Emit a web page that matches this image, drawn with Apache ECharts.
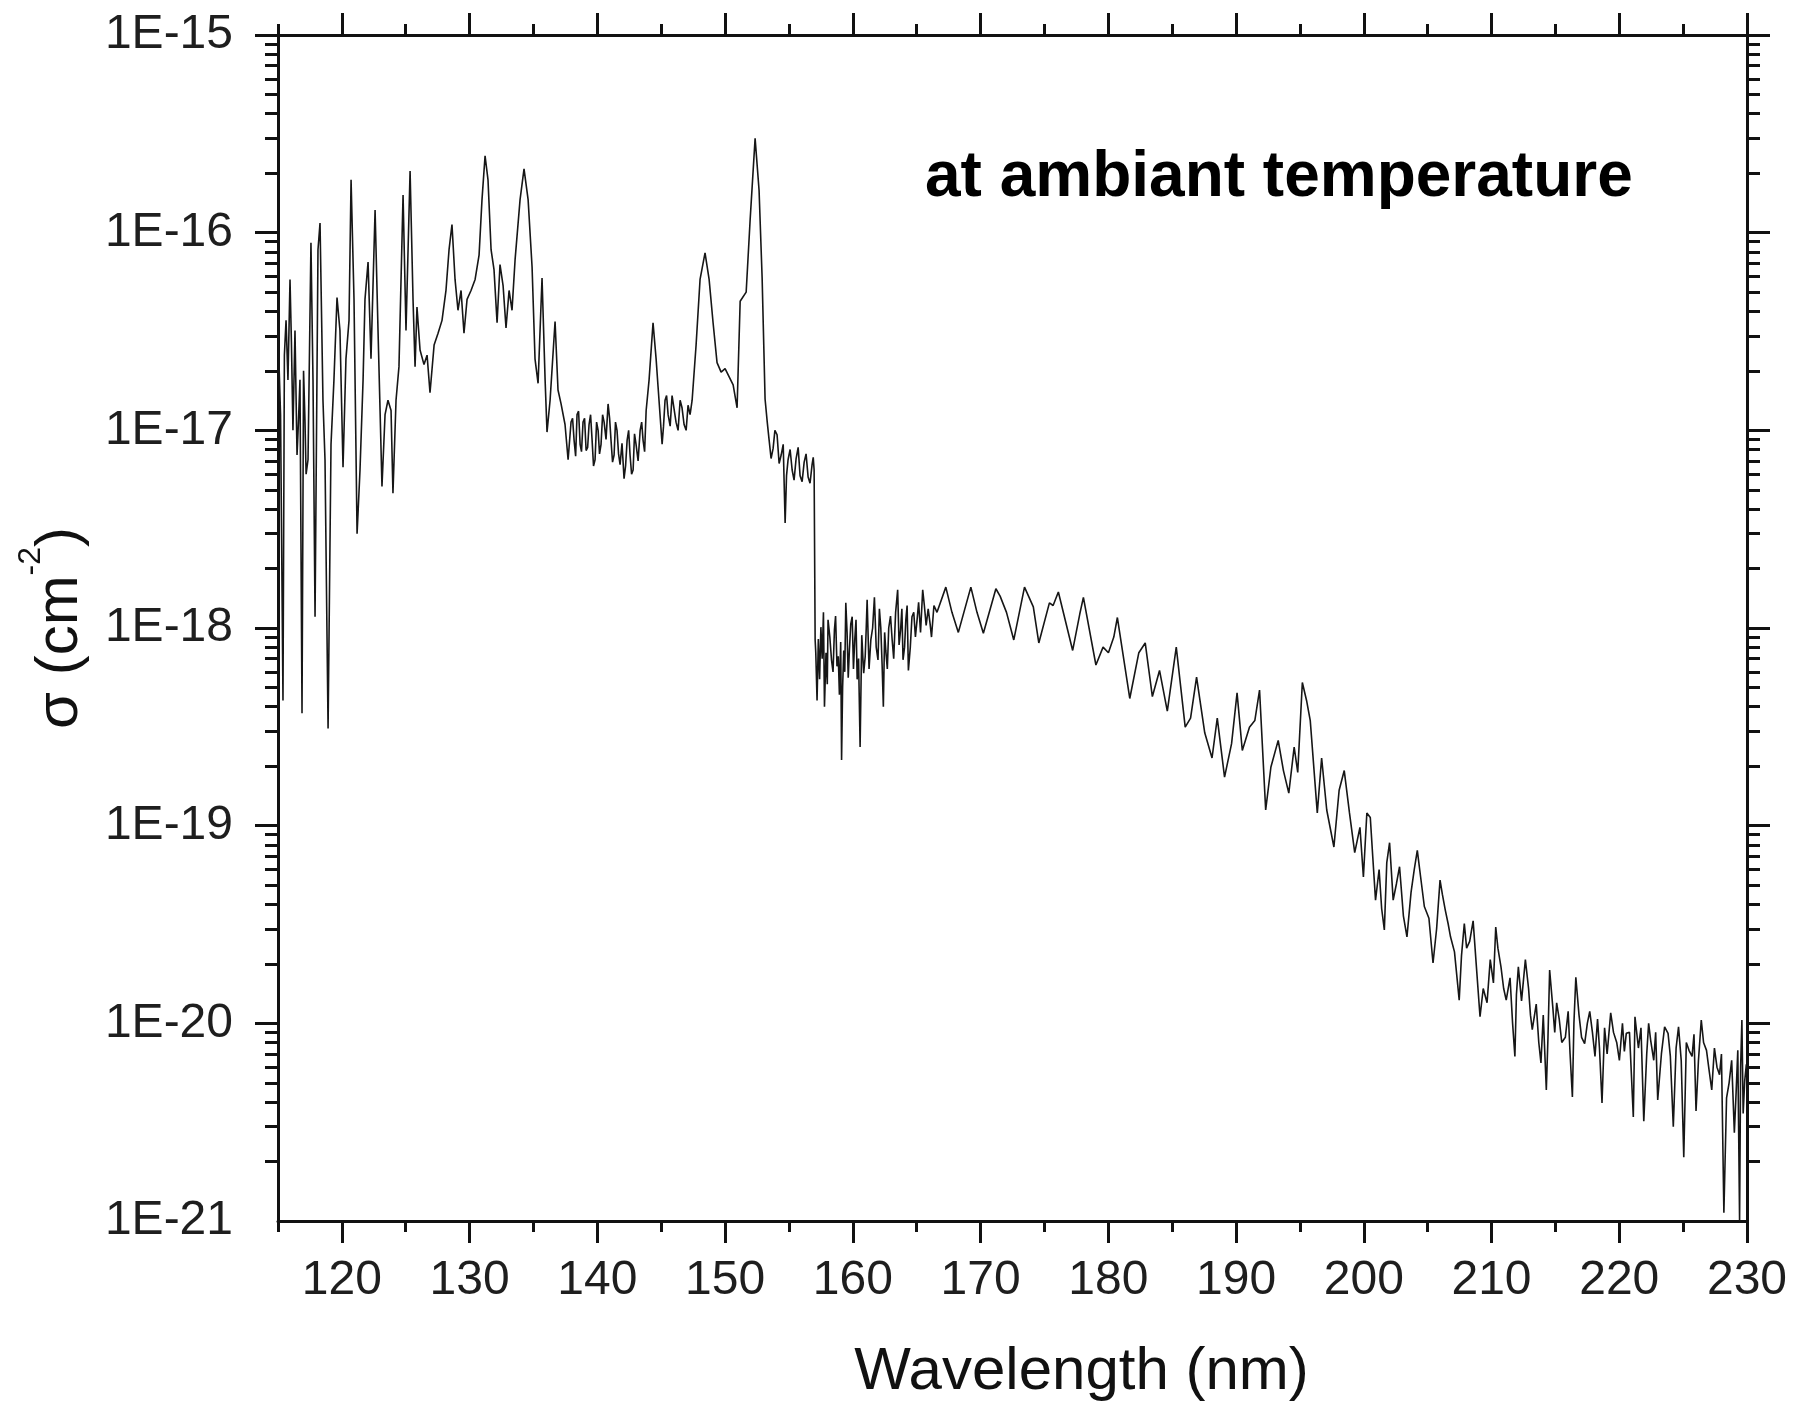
<!DOCTYPE html>
<html>
<head>
<meta charset="utf-8">
<script src="https://cdn.jsdelivr.net/npm/echarts@6/dist/echarts.min.js"></script>
<style>
html,body{margin:0;padding:0;background:#fff;}
#chart{width:1796px;height:1410px;}
</style>
</head>
<body>
<div id="chart"></div>
<script>
// Wavelength (nm) - main trace
const wavelength = [
115.0,115.39,115.63,115.78,115.94,116.17,116.33,116.49,116.72,116.88,
117.11,117.35,117.58,117.74,117.9,118.13,118.29,118.52,118.68,118.92,
119.15,119.38,119.62,119.85,120.09,120.32,120.56,120.72,120.95,121.19,
121.42,121.66,121.81,122.05,122.28,122.6,122.83,122.99,123.14,123.38,
123.61,123.85,124.0,124.24,124.47,124.79,125.02,125.34,125.57,125.73,
125.88,126.12,126.43,126.67,126.9,127.22,127.53,127.84,128.15,128.39,
128.62,128.86,129.09,129.33,129.56,129.8,130.11,130.43,130.74,130.97,
131.21,131.44,131.68,131.91,132.15,132.38,132.62,132.85,133.09,133.32,
133.56,133.95,134.26,134.58,134.89,135.12,135.36,135.67,135.91,136.06,
136.3,136.69,136.92,137.16,137.47,137.71,137.94,
138.18,138.41,138.65,138.88,139.12,139.35,139.59,139.82,140.06,140.29,
140.53,140.84,141.07,141.31,141.54,141.78,142.09,142.33,142.56,142.8,
143.03,143.35,143.58,143.82,144.05,144.36,144.6,144.75,145.07,145.3,
145.54,145.85,146.16,146.48,146.79,147.1,147.42,147.73,148.04,148.43,
148.75,149.06,149.37,149.69,150.0,150.31,150.63,150.94,151.18,151.65,
151.96,152.35,152.66,152.9,153.13,153.45,153.76,154.07,154.39,154.7,
154.93,155.25,155.56,155.87,156.19,156.5,156.81,156.97,157.05,
157.2,157.5,157.78,158.06,158.33,158.56,158.76,159.12,159.29,159.45,
159.73,159.95,160.15,160.34,160.57,160.85,161.12,161.41,161.69,161.97,
162.19,162.39,162.58,162.81,163.08,163.51,163.74,163.93,164.15,164.35,
164.63,164.77,165.03,165.47,165.74,166.16,166.59,167.28,167.76,168.26,
169.24,169.72,170.22,171.2,171.53,172.03,172.6,173.44,174.13,174.56,
175.39,175.68,176.09,177.21,177.77,178.05,179.03,179.59,180.01,180.43,
180.71,181.68,182.39,182.89,183.45,184.01,184.62,185.32,186.02,186.44,
186.91,187.55,188.12,188.53,189.1,189.65,190.08,190.49,191.05,191.47,
191.84,192.32,192.73,193.3,193.71,194.13,194.55,194.83,195.19,195.52,
195.81,196.36,196.7,197.1,197.66,198.07,198.47,198.88,199.29,199.7,
199.97,200.24,200.51,200.92,201.61,202.02,202.56,203.38,204.19,204.74,
205.42,205.97,206.38,206.79,207.47,207.87,208.29,208.56,209.1,209.65,
210.33,210.74,211.15,211.83,212.1,212.65,213.19,213.87,214.29,214.55,
215.1,215.78,216.33,216.6,217.29,217.69,218.1,218.65,219.33,220.01,
220.55,221.1,221.23,221.92,222.46,223.01,223.82,224.23,224.64,225.05,
225.46,226.01,226.42,226.83,227.24,227.65,228.19,228.6,229.01,229.28,
229.42,229.6,229.82,229.95
];

// Absorption cross section sigma (cm^-2) - main trace
const sigma = [
3.2e-17,4.3e-19,3.6e-17,1.8e-17,5.8e-17,1.0e-17,3.2e-17,7.5e-18,1.8e-17,3.7e-19,
1.13e-17,7.1e-18,8.9e-17,1.8e-17,1.14e-18,8.2e-17,1.12e-16,1.42e-17,7.1e-18,3.1e-19,
8.5e-18,1.8e-17,4.7e-17,3.2e-17,6.5e-18,2.3e-17,3.6e-17,1.85e-16,4.6e-17,3.0e-18,
6.3e-18,1.8e-17,4.6e-17,7.1e-17,2.3e-17,1.3e-16,3.2e-17,1.26e-17,5.2e-18,1.2e-17,
1.42e-17,1.26e-17,4.8e-18,1.42e-17,2.1e-17,1.55e-16,3.2e-17,2.05e-16,4.6e-17,2.1e-17,
4.2e-17,2.55e-17,2.15e-17,2.4e-17,1.55e-17,2.7e-17,3.1e-17,3.6e-17,5.1e-17,8.2e-17,
1.1e-16,5.8e-17,4.05e-17,5.1e-17,3.1e-17,4.6e-17,5.1e-17,5.8e-17,7.7e-17,1.47e-16,
2.45e-16,1.85e-16,8.2e-17,6.5e-17,3.5e-17,6.9e-17,5.4e-17,3.3e-17,5.1e-17,4.05e-17,
7.3e-17,1.47e-16,2.1e-16,1.47e-16,6.7e-17,2.3e-17,1.73e-17,5.9e-17,1.8e-17,9.8e-18,
1.42e-17,3.55e-17,1.6e-17,1.36e-17,1.07e-17,7.1e-18,1.1e-17,
8.9e-18,1.2e-17,8.5e-18,1.1e-17,7.9e-18,1.07e-17,8.9e-18,7.1e-18,1.0e-17,8.5e-18,
1.1e-17,1.36e-17,8.9e-18,7.5e-18,1.0e-17,6.7e-18,5.7e-18,8.9e-18,7.5e-18,6.3e-18,
8.5e-18,1.0e-17,8.9e-18,1.26e-17,1.8e-17,3.5e-17,2.3e-17,1.67e-17,8.5e-18,1.42e-17,
1.2e-17,1.5e-17,1.1e-17,1.42e-17,1.07e-17,1.34e-17,1.42e-17,2.7e-17,5.8e-17,7.9e-17,
5.8e-17,3.5e-17,2.2e-17,1.97e-17,2.05e-17,1.87e-17,1.7e-17,1.3e-17,4.5e-17,5.0e-17,
1.16e-16,3.0e-16,1.64e-16,5.9e-17,1.44e-17,8.9e-18,8.1e-18,9.5e-18,7.5e-18,3.4e-18,
7.1e-18,6.3e-18,7.2e-18,5.9e-18,6.9e-18,5.8e-18,6.7e-18,6.3e-18,8.7e-19,
4.3e-19,1.01e-18,4.0e-19,1.1e-18,6.9e-19,9.8e-19,6.4e-19,2.15e-19,7.7e-19,1.34e-18,
7.7e-19,1.14e-18,8.7e-19,5.5e-19,2.5e-19,5.9e-19,1.39e-18,8.7e-19,1.43e-18,6.9e-19,
1.0e-18,4.0e-19,7.7e-19,1.0e-18,8.7e-19,1.56e-18,9.8e-19,6.9e-19,1.1e-18,6.1e-19,
1.14e-18,1.2e-18,1.1e-18,1.56e-18,1.03e-18,9.0e-19,1.2e-18,1.61e-18,1.2e-18,9.5e-19,
1.61e-18,1.2e-18,9.4e-19,1.58e-18,1.45e-18,1.2e-18,8.7e-19,1.61e-18,1.28e-18,8.4e-19,
1.34e-18,1.3e-18,1.52e-18,7.7e-19,1.18e-18,1.43e-18,6.5e-19,8.0e-19,7.5e-19,9.0e-19,
1.13e-18,4.4e-19,7.5e-19,8.4e-19,4.5e-19,6.1e-19,3.8e-19,8.0e-19,3.15e-19,3.5e-19,
5.65e-19,2.95e-19,2.2e-19,3.5e-19,1.76e-19,2.6e-19,4.7e-19,2.4e-19,3.15e-19,3.4e-19,
4.85e-19,1.2e-19,1.98e-19,2.7e-19,1.9e-19,1.46e-19,2.5e-19,1.86e-19,5.3e-19,4.3e-19,
3.4e-19,1.16e-19,2.2e-19,1.2e-19,7.8e-20,1.51e-19,1.9e-19,1.16e-19,7.3e-20,9.8e-20,
5.5e-20,1.16e-19,1.1e-19,4.2e-20,2.97e-20,8.2e-20,5.1e-20,2.74e-20,7.5e-20,3.9e-20,
2.02e-20,5.3e-20,3.74e-20,2.74e-20,1.31e-20,3.2e-20,2.6e-20,3.3e-20,1.08e-20,1.27e-20,
3.07e-20,1.93e-20,1.31e-20,6.8e-21,1.93e-20,2.1e-20,9.3e-21,6.3e-21,4.6e-21,1.86e-20,
1.27e-20,8.5e-21,4.24e-21,1.71e-20,7.9e-21,1.15e-20,6.8e-21,3.95e-21,1.13e-20,6.5e-21,
8.9e-21,3.36e-21,1.08e-20,3.2e-21,8.2e-21,4.1e-21,8.9e-21,3.0e-21,9.6e-21,2.1e-21,
7.3e-21,3.6e-21,1.04e-20,7.3e-21,4.6e-21,6.0e-21,1.1e-21,5.0e-21,2.8e-21,7.3e-21,
1.0e-21,1.04e-20,5.1e-21,6.2e-21
];

// Extra samples read inside the densely noisy stretches of the trace
const noiseWavelength = [
115.2,115.5,116.05,116.6,117.0,117.2,
138.06,138.3,138.53,138.76,139.0,139.24,139.47,139.7,139.94,140.17,
140.41,140.68,140.96,141.19,141.42,141.66,141.93,142.21,142.45,142.68,
142.91,143.19,143.47,143.7,
145.18,145.42,145.7,146.0,146.32,146.63,146.95,147.26,
153.3,153.6,153.9,154.23,154.55,154.81,155.09,155.4,155.72,156.03,156.34,156.65,156.9,
157.1,157.3,157.4,157.6,157.7,157.9,158.0,158.2,158.45,158.65,
158.86,158.95,159.05,159.2,159.37,159.55,159.64,159.84,160.05,160.25,
160.45,160.7,160.97,161.05,161.27,161.55,161.83,162.08,162.29,162.49,
162.7,162.95,163.2,163.35,163.62,163.84,164.05,164.25,164.5,164.9,
165.15,165.3,165.6,165.9,166.05,166.35,
200.7,201.2,201.4,201.8,202.3,202.8,203.1,203.7,203.95,204.45,
205.1,205.7,206.15,206.6,207.1,207.65,208.05,208.8,209.35,209.9,
210.15,210.5,210.95,211.45,211.65,211.95,212.35,212.9,213.05,213.5,
213.7,214.05,214.42,214.8,214.95,215.3,215.5,216.0,216.15,216.45,
216.85,217.05,217.5,217.9,218.3,218.45,218.85,219.05,219.55,219.8,
220.25,220.4,220.8,221.5,221.7,222.15,222.3,222.7,222.85,223.3,
223.55,224.0,224.45,224.85,225.25,225.7,225.85,226.2,226.6,227.0,
227.45,227.85,228.0,228.4,228.8,229.15,229.5,229.7
];
const noiseSigma = [
1.2e-17,2.4e-17,2.8e-17,1.1e-17,2.0e-17,6.0e-18,
1.15e-17,7.4e-18,1.25e-17,7.8e-18,1.15e-17,8.2e-18,1.2e-17,6.6e-18,1.1e-17,7.6e-18,
1.2e-17,9.0e-18,1.15e-17,6.9e-18,1.1e-17,7.6e-18,8.6e-18,6.6e-18,1.0e-17,6.0e-18,
9.6e-18,7.0e-18,1.1e-17,7.8e-18,
1.05e-17,1.5e-17,1.05e-17,1.5e-17,1.0e-17,1.3e-17,1.0e-17,1.2e-17,
1.1e-17,7.2e-18,1.0e-17,6.8e-18,8.5e-18,5.9e-18,8.0e-18,5.6e-18,8.2e-18,5.5e-18,7.6e-18,5.4e-18,7.3e-18,
7.5e-19,8.8e-19,5.5e-19,7.0e-19,1.2e-18,7.5e-19,5.2e-19,9.0e-19,6.0e-19,1.15e-18,
7.2e-19,4.6e-19,8.5e-19,5.0e-19,6.0e-19,9.5e-19,5.6e-19,1.05e-18,6.2e-19,1.1e-18,
7.0e-19,9.2e-19,7.2e-19,1.0e-18,6.2e-19,1.0e-18,8.0e-19,1.25e-18,6.6e-19,9.5e-19,
6.2e-19,1.15e-18,7.0e-19,1.2e-18,8.2e-19,1.25e-18,8.0e-19,1.3e-18,8.0e-19,9.0e-19,
1.35e-18,9.5e-19,1.3e-18,1.25e-18,1.05e-18,1.3e-18,
7.0e-20,6.0e-20,3.8e-20,6.5e-20,4.2e-20,6.2e-20,3.5e-20,4.6e-20,6.0e-20,5.5e-20,
3.4e-20,3.0e-20,4.5e-20,3.2e-20,2.3e-20,2.2e-20,2.4e-20,2.0e-20,1.5e-20,2.1e-20,
1.6e-20,2.4e-20,1.5e-20,1.7e-20,1.0e-20,1.4e-20,1.3e-20,1.5e-20,1.1e-20,1.25e-20,
8.0e-21,1.1e-20,8.5e-21,1.2e-20,9.0e-21,1.05e-20,8.0e-21,1.15e-20,7.0e-21,1.0e-20,
1.1e-20,8.5e-21,1.0e-20,9.0e-21,1.05e-20,7.5e-21,9.5e-21,7.0e-21,9.0e-21,8.0e-21,
1.0e-20,7.2e-21,9.0e-21,7.5e-21,9.5e-21,7.0e-21,1.0e-20,6.5e-21,9.0e-21,7.0e-21,
9.6e-21,6.8e-21,7.5e-21,6.5e-21,8.0e-21,6.8e-21,8.8e-21,6.5e-21,8.0e-21,6.0e-21,
7.5e-21,5.5e-21,7.0e-21,4.2e-21,6.5e-21,4.5e-21,6.0e-21,3.5e-21
];

const xMajorTicks = [120, 130, 140, 150, 160, 170, 180, 190, 200, 210, 220, 230];
const yDecadeExponents = [-21, -20, -19, -18, -17, -16, -15];
const yMinorMantissas = [2, 3, 4, 5, 6, 7, 8, 9];
const annotationText = 'at ambiant temperature';
const xAxisTitle = 'Wavelength (nm)';

// minor tick positions (log10 space) for the decorative overlay axis
const yMinorTicks = [];
for (let i = 0; i < yDecadeExponents.length - 1; i++) {
  for (const m of yMinorMantissas) yMinorTicks.push(yDecadeExponents[i] + Math.log10(m));
}

const FONT = '"Liberation Sans", Arial, Helvetica, sans-serif';
const AX = '#111111';
const tickStyle = { color: AX, width: 3 };
const gridRect = { left: 278, top: 35, width: 1469, height: 1186, outerBoundsMode: 'none', containLabel: false };

const data = wavelength.map((w, i) => [w, sigma[i]])
  .concat(noiseWavelength.map((w, i) => [w, noiseSigma[i]]))
  .sort((a, b) => a[0] - b[0]);

const chart = echarts.init(document.getElementById('chart'), null, { renderer: 'canvas' });
chart.setOption({
  animation: false,
  backgroundColor: '#ffffff',
  title: {
    text: annotationText, left: 925, top: 146, padding: 0,
    textStyle: { fontSize: 64, fontWeight: 'bold', fontFamily: FONT, color: '#000' }
  },
  grid: [Object.assign({}, gridRect), Object.assign({}, gridRect)],
  xAxis: [
    {
      gridIndex: 0, type: 'value', position: 'bottom', min: 115, max: 230,
      splitLine: { show: false },
      axisLine: { show: true, onZero: false, lineStyle: { color: AX, width: 3 } },
      axisTick: { show: true, inside: false, customValues: xMajorTicks, length: 22, lineStyle: tickStyle },
      axisLabel: { show: true, customValues: xMajorTicks, fontSize: 48, fontFamily: FONT, color: '#1e1e1e', margin: 36, hideOverlap: false },
      name: xAxisTitle, nameLocation: 'middle', nameGap: 121, nameMoveOverlap: false,
      nameTextStyle: { fontSize: 60, fontFamily: FONT, color: '#111', padding: [0, 0, 0, 138] }
    },
    {
      gridIndex: 0, type: 'value', position: 'top', min: 115, max: 230,
      splitLine: { show: false },
      axisLine: { show: true, onZero: false, lineStyle: { color: AX, width: 3 } },
      axisTick: { show: true, inside: false, customValues: xMajorTicks, length: 22, lineStyle: tickStyle },
      axisLabel: { show: false }
    },
    {
      gridIndex: 1, type: 'value', position: 'bottom', min: 115, max: 230, interval: 5,
      splitLine: { show: false }, axisLine: { show: false, onZero: false },
      axisTick: { show: true, inside: false, length: 11, lineStyle: tickStyle },
      axisLabel: { show: false }
    },
    {
      gridIndex: 1, type: 'value', position: 'top', min: 115, max: 230, interval: 5,
      splitLine: { show: false }, axisLine: { show: false, onZero: false },
      axisTick: { show: true, inside: false, length: 11, lineStyle: tickStyle },
      axisLabel: { show: false }
    }
  ],
  yAxis: [
    {
      gridIndex: 0, type: 'log', logBase: 10, position: 'left', min: 1e-21, max: 1e-15,
      splitLine: { show: false },
      axisLine: { show: true, onZero: false, lineStyle: { color: AX, width: 3 } },
      axisTick: { show: true, inside: false, length: 23, lineStyle: tickStyle },
      axisLabel: { show: false },
      name: '{a|σ (cm}{s|-2}{a|)}', nameLocation: 'middle', nameRotate: 90, nameGap: 173, nameMoveOverlap: false,
      nameTextStyle: {
        color: '#111',
        rich: {
          a: { fontSize: 60, lineHeight: 90, fontFamily: FONT, color: '#111' },
          s: { fontSize: 32, fontFamily: FONT, color: '#111', verticalAlign: 'top' }
        }
      }
    },
    {
      gridIndex: 0, type: 'log', logBase: 10, position: 'right', min: 1e-21, max: 1e-15,
      splitLine: { show: false },
      axisLine: { show: true, onZero: false, lineStyle: { color: AX, width: 3 } },
      axisTick: { show: true, inside: false, length: 23, lineStyle: tickStyle },
      axisLabel: { show: false }
    },
    {
      // overlay in log10 units: minor ticks + decade labels
      gridIndex: 1, type: 'value', position: 'left', min: -21, max: -15,
      splitLine: { show: false }, axisLine: { show: false, onZero: false },
      axisTick: { show: true, inside: false, customValues: yMinorTicks, length: 13, lineStyle: tickStyle },
      axisLabel: {
        show: true, customValues: yDecadeExponents, fontSize: 48, fontFamily: FONT, color: '#1e1e1e',
        margin: 45, hideOverlap: false, showMinLabel: true, showMaxLabel: true,
        formatter: v => '1E' + Math.round(v)
      }
    },
    {
      gridIndex: 1, type: 'value', position: 'right', min: -21, max: -15,
      splitLine: { show: false }, axisLine: { show: false, onZero: false },
      axisTick: { show: true, inside: false, customValues: yMinorTicks, length: 13, lineStyle: tickStyle },
      axisLabel: { show: false }
    }
  ],
  series: [{
    type: 'line', xAxisIndex: 0, yAxisIndex: 0, data: data,
    showSymbol: false, symbol: 'none', clip: true,
    lineStyle: { color: '#161616', width: 1.6 }
  }]
});
</script>
</body>
</html>
